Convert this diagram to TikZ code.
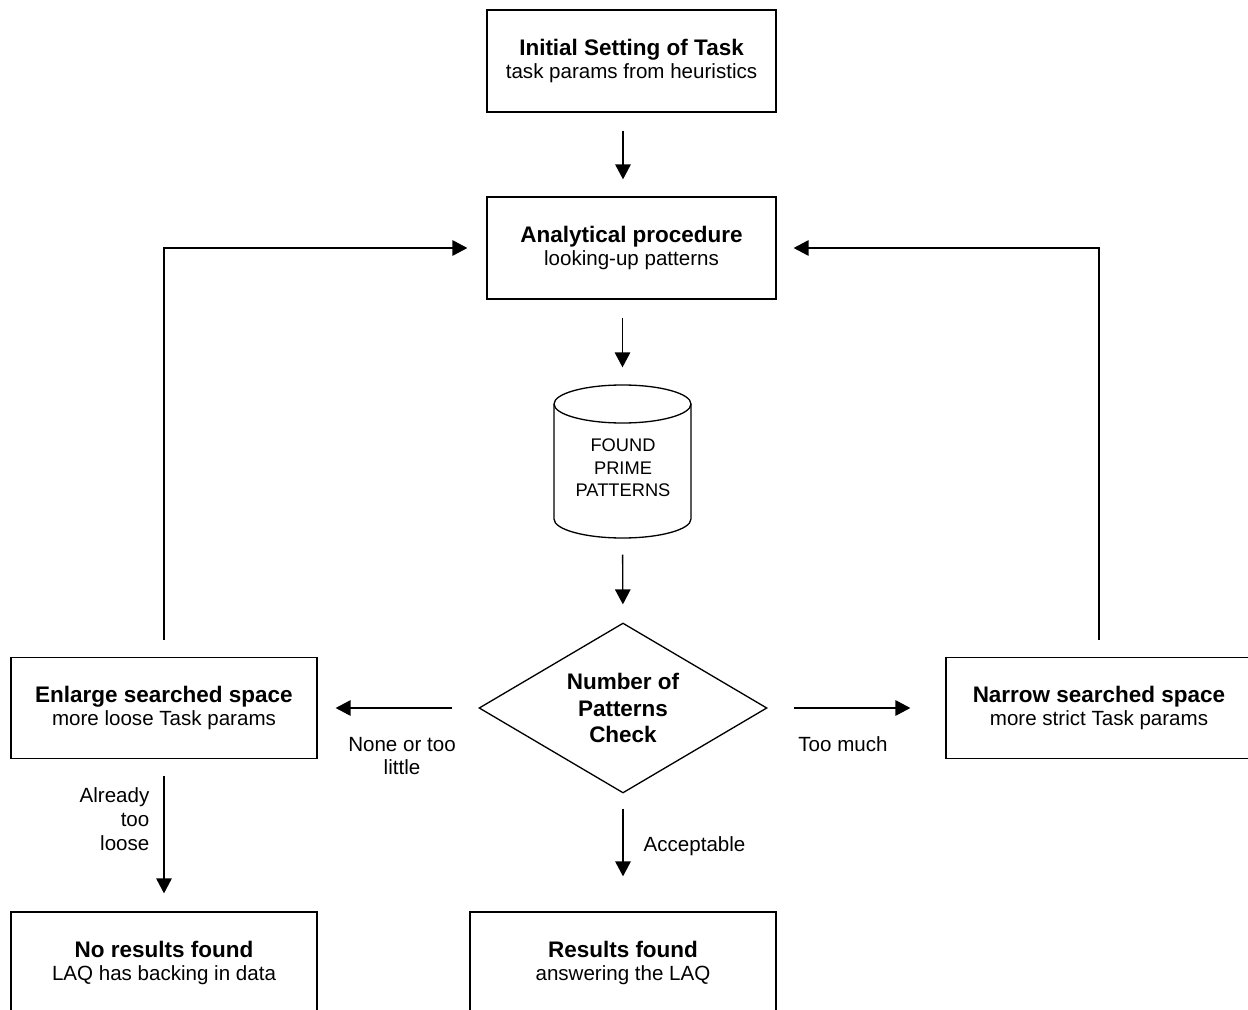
\documentclass[tikz,border=0pt]{standalone}
\usepackage{fontspec}
\setmainfont{Liberation Sans}
\usetikzlibrary{arrows.meta,shapes.geometric,calc}
\newcommand\mytitlefont{\fontsize{12.8}{13.8}\selectfont\bfseries}
\newcommand\mysubfont{\fontsize{11.7}{13.6}\selectfont}
\newcommand\mydiafont{\fontsize{12.8}{15}\selectfont\bfseries}
\newcommand\mycylfont{\fontsize{10.4}{12.8}\selectfont}
\begin{document}
\begin{tikzpicture}[x=0.02cm,y=-0.02cm,line width=0.75pt,
  box/.style={draw,rectangle,minimum width=6.12cm,minimum height=2.04cm,inner sep=0pt,align=center,font=\mysubfont},
  topbox/.style={box,minimum width=5.78cm},
  arr/.style={-{Triangle[length=8.5pt,width=8.8pt]}},
  lbl/.style={font=\mysubfont,inner sep=0pt}]
\useasboundingbox (0,0) rectangle (1248,1010);
\clip (0,0) rectangle (1248,1010);

% nodes
\node[topbox] (top) at (631.5,61) {{\mytitlefont Initial Setting of Task}\\task params from heuristics};
\node[topbox] (anal) at (631.5,248) {{\mytitlefont Analytical procedure}\\looking-up patterns};
\node[minimum width=2.74cm,minimum height=3.06cm,inner sep=0pt] (cyl) at (622.5,461.5) {};
\draw (554,404) -- (554,519) arc[start angle=180,end angle=360,x radius=1.37cm,y radius=0.38cm] -- (691,404);
\draw (622.5,404) ellipse[x radius=1.37cm,y radius=0.38cm];
\node[font=\mycylfont,align=center,inner sep=0pt] (cyltext) at (623,468) {FOUND\\PRIME\\PATTERNS};
\node[draw,diamond,aspect=1.7,minimum width=5.76cm,minimum height=3.4cm,inner sep=0pt,align=center,font=\mydiafont] (dia) at (623,708) {Number of\\Patterns\\Check};
\node[box,minimum height=2.02cm] (enl) at (164,708) {{\mytitlefont Enlarge searched space}\\more loose Task params};
\node[box,minimum height=2.02cm] (nar) at (1099,708) {{\mytitlefont Narrow searched space}\\more strict Task params};
\node[box] (nores) at (164,963) {{\mytitlefont No results found}\\LAQ has backing in data};
\node[box] (res) at (623,963) {{\mytitlefont Results found}\\answering the LAQ};

% labels
\node[lbl,align=center] (lnone) at (402,756) {None or too\\little};
\node[lbl] (lmuch) at (843,744) {Too much};
\node[lbl,anchor=west] (lacc) at (643,846) {Acceptable};
\node[lbl,align=right,anchor=east] (lalr) at (150,819) {Already\\too\\loose};

% connectors
\draw[arr,shorten <=0.36cm,shorten >=0.34cm] (top.south -| dia.north) -- (anal.north -| dia.north);
\draw[arr,shorten <=0.36cm,shorten >=0.34cm] (anal.south -| cyl.north) -- (cyl.north);
\draw[arr,shorten <=0.32cm,shorten >=0.36cm] (cyl.south) -- (dia.north);
\draw[arr,shorten <=0.30cm,shorten >=0.70cm] (dia.south) -- (res.north);
\draw[arr,shorten <=0.52cm,shorten >=0.36cm] (dia.west) -- (dia.west -| enl.east);
\draw[arr,shorten <=0.52cm,shorten >=0.70cm] (dia.east) -- (dia.east -| nar.west);
\draw[arr,shorten <=0.34cm,shorten >=0.36cm] (enl.south) -- (nores.north);
\draw[arr,shorten <=0.34cm,shorten >=0.38cm] (enl.north) |- (anal.west);
\draw[arr,shorten <=0.34cm,shorten >=0.34cm] (nar.north) |- (anal.east);
\end{tikzpicture}
\end{document}
